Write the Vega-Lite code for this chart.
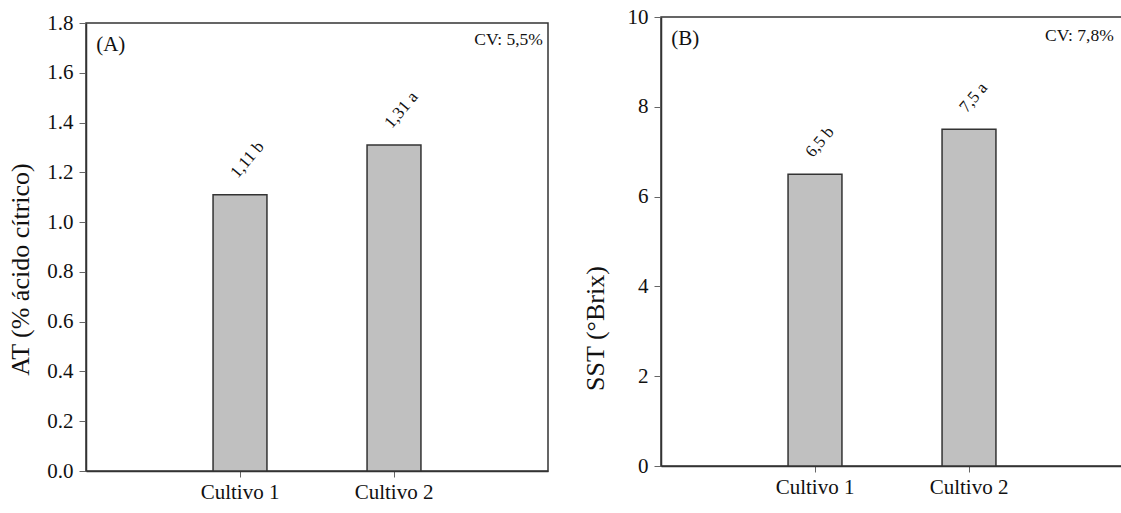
{
  "$schema": "https://vega.github.io/schema/vega-lite/v6.json",
  "background": "white",
  "padding": {"left": 6, "top": 4, "right": 0, "bottom": 0},
  "spacing": 32,
  "config": {
    "font": "Liberation Serif",
    "view": {"stroke": "#333333", "strokeWidth": 1.5},
    "axis": {
      "grid": false,
      "domainColor": "#333333",
      "domainWidth": 1.5,
      "tickColor": "#666666",
      "tickSize": 7,
      "labelFont": "Liberation Serif",
      "labelFontSize": 21,
      "labelColor": "#111111",
      "titleFont": "Liberation Serif",
      "titleFontSize": 26,
      "titleFontWeight": "normal",
      "titleColor": "#111111"
    },
    "text": {"font": "Liberation Serif", "color": "#111111"}
  },
  "datasets": {
    "at": [
      {"cultivo": "Cultivo 1", "valor": 1.11, "rotulo": "1,11 b"},
      {"cultivo": "Cultivo 2", "valor": 1.31, "rotulo": "1,31 a"}
    ],
    "sst": [
      {"cultivo": "Cultivo 1", "valor": 6.5, "rotulo": "6,5 b"},
      {"cultivo": "Cultivo 2", "valor": 7.5, "rotulo": "7,5 a"}
    ],
    "notasA": [{"painel": "(A)", "cv": "CV: 5,5%"}],
    "notasB": [{"painel": "(B)", "cv": "CV: 7,8%"}],
    "vazio": []
  },
  "hconcat": [
    {
      "spacing": 0,
      "vconcat": [
        {
          "width": 462,
          "height": 7,
          "data": {"name": "vazio"},
          "mark": "point",
          "view": {"stroke": null}
        },
        {
          "width": 462,
          "height": 448,
          "layer": [
            {
              "data": {"name": "at"},
              "mark": {"type": "bar", "fill": "#c0c0c0", "stroke": "#333333", "strokeWidth": 1.5},
              "encoding": {
                "x": {
                  "field": "cultivo", "type": "nominal",
                  "scale": {"paddingInner": 0.65, "paddingOuter": 0.825},
                  "axis": {"title": null, "labelAngle": 0, "labelPadding": 4, "tickSize": 6}
                },
                "y": {
                  "field": "valor", "type": "quantitative",
                  "scale": {"domain": [0, 1.8], "nice": false},
                  "axis": {
                    "title": "AT (% ácido cítrico)",
                    "values": [0, 0.2, 0.4, 0.6, 0.8, 1.0, 1.2, 1.4, 1.6, 1.8],
                    "format": ".1f", "labelPadding": 6,
                    "titleX": -53, "titleY": 246
                  }
                }
              }
            },
            {
              "data": {"name": "at"},
              "mark": {"type": "text", "align": "left", "baseline": "middle", "angle": 310, "fontSize": 17, "xOffset": -6, "yOffset": -19},
              "encoding": {
                "x": {"field": "cultivo", "type": "nominal", "scale": {"type": "point", "padding": 1}, "axis": null},
                "y": {"field": "valor", "type": "quantitative"},
                "text": {"field": "rotulo"}
              }
            },
            {
              "data": {"name": "notasA"},
              "mark": {"type": "text", "align": "left", "baseline": "middle", "fontSize": 21},
              "encoding": {
                "x": {"datum": 0.022, "type": "quantitative", "scale": {"domain": [0, 1]}, "axis": null},
                "y": {"datum": 1.711, "type": "quantitative"},
                "text": {"field": "painel"}
              }
            },
            {
              "data": {"name": "notasA"},
              "mark": {"type": "text", "align": "right", "baseline": "middle", "fontSize": 17.5},
              "encoding": {
                "x": {"datum": 0.989, "type": "quantitative", "scale": {"domain": [0, 1]}, "axis": null},
                "y": {"datum": 1.732, "type": "quantitative"},
                "text": {"field": "cv"}
              }
            }
          ],
          "resolve": {"scale": {"x": "independent"}}
        }
      ]
    },
    {
      "spacing": 0,
      "vconcat": [
        {
          "width": 462,
          "height": 1,
          "data": {"name": "vazio"},
          "mark": "point",
          "view": {"stroke": null}
        },
        {
          "width": 462,
          "height": 449,
          "layer": [
            {
              "data": {"name": "sst"},
              "mark": {"type": "bar", "fill": "#c0c0c0", "stroke": "#333333", "strokeWidth": 1.5},
              "encoding": {
                "x": {
                  "field": "cultivo", "type": "nominal",
                  "scale": {"paddingInner": 0.65, "paddingOuter": 0.825},
                  "axis": {"title": null, "labelAngle": 0, "labelPadding": 4, "tickSize": 6}
                },
                "y": {
                  "field": "valor", "type": "quantitative",
                  "scale": {"domain": [0, 10], "nice": false},
                  "axis": {
                    "title": "SST (°Brix)",
                    "values": [0, 2, 4, 6, 8, 10],
                    "labelPadding": 6,
                    "titleX": -53, "titleY": 311
                  }
                }
              }
            },
            {
              "data": {"name": "sst"},
              "mark": {"type": "text", "align": "left", "baseline": "middle", "angle": 310, "fontSize": 17, "xOffset": -6, "yOffset": -19},
              "encoding": {
                "x": {"field": "cultivo", "type": "nominal", "scale": {"type": "point", "padding": 1}, "axis": null},
                "y": {"field": "valor", "type": "quantitative"},
                "text": {"field": "rotulo"}
              }
            },
            {
              "data": {"name": "notasB"},
              "mark": {"type": "text", "align": "left", "baseline": "middle", "fontSize": 21},
              "encoding": {
                "x": {"datum": 0.022, "type": "quantitative", "scale": {"domain": [0, 1]}, "axis": null},
                "y": {"datum": 9.52, "type": "quantitative"},
                "text": {"field": "painel"}
              }
            },
            {
              "data": {"name": "notasB"},
              "mark": {"type": "text", "align": "right", "baseline": "middle", "fontSize": 17.5},
              "encoding": {
                "x": {"datum": 0.98, "type": "quantitative", "scale": {"domain": [0, 1]}, "axis": null},
                "y": {"datum": 9.58, "type": "quantitative"},
                "text": {"field": "cv"}
              }
            }
          ],
          "resolve": {"scale": {"x": "independent"}}
        }
      ]
    }
  ]
}
